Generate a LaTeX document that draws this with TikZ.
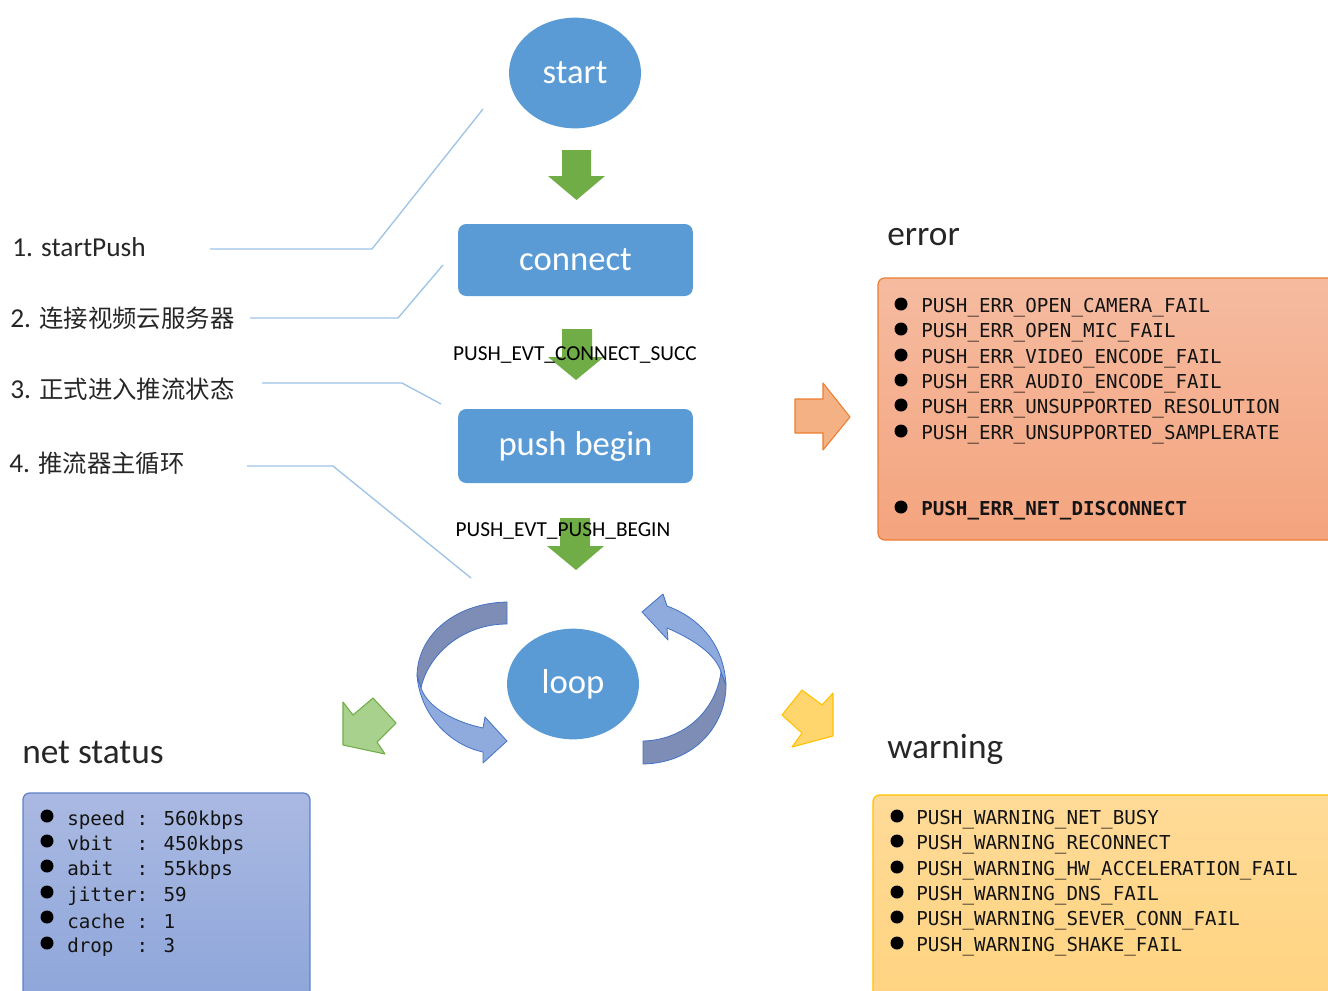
\documentclass[tikz,border=0pt]{standalone}
\usepackage{fontspec}
\setmainfont{Carlito}
\newfontfamily\cjk{Noto Sans CJK SC}
\newfontfamily\codefont{DejaVu Sans Mono}
\usetikzlibrary{shapes.geometric}

\definecolor{nodeblue}{RGB}{91,155,213}
\definecolor{flowgreen}{RGB}{112,173,71}
\definecolor{leaderblue}{RGB}{157,195,230}
\definecolor{ribbonlight}{RGB}{143,170,220}
\definecolor{ribbondark}{RGB}{126,141,182}
\definecolor{ribbonedge}{RGB}{68,114,196}
\definecolor{errtop}{RGB}{245,187,160}
\definecolor{errbot}{RGB}{244,164,126}
\definecolor{erredge}{RGB}{237,125,49}
\definecolor{nettop}{RGB}{170,185,226}
\definecolor{netbot}{RGB}{142,166,218}
\definecolor{netedge}{RGB}{93,128,200}
\definecolor{warntop}{RGB}{255,219,152}
\definecolor{warnbot}{RGB}{255,211,128}
\definecolor{warnedge}{RGB}{255,192,0}
\definecolor{orangefill}{RGB}{244,177,131}
\definecolor{yellowfill}{RGB}{255,214,110}
\definecolor{lightgreen}{RGB}{169,209,142}
\definecolor{codetext}{RGB}{20,20,20}

\begin{document}
\begin{tikzpicture}[x=0.75pt,y=-0.75pt,
  stateell/.style={ellipse,fill=nodeblue,text=white,inner sep=0pt,
    minimum width=99pt,minimum height=83pt,font=\fontsize{26}{30}\selectfont},
  statebox/.style={rectangle,rounded corners=6pt,fill=nodeblue,text=white,
    inner sep=0pt,minimum width=176pt,font=\fontsize{26}{30}\selectfont},
  flowarrow/.style={fill=flowgreen,draw=none},
  evtlabel/.style={font=\fontsize{16}{18}\selectfont,text=black,inner sep=0pt},
  steplabel/.style={anchor=west,font=\fontsize{20.5}{24}\selectfont,text=black!85,inner sep=0pt},
  heading/.style={anchor=west,font=\fontsize{26.5}{30}\selectfont,text=black!85,inner sep=0pt},
  leader/.style={draw=leaderblue,line width=1pt},
  item/.style={anchor=west,font=\codefont\fontsize{14.4}{16}\selectfont,text=codetext,inner sep=0pt},
  ribbon/.style={draw=ribbonedge,line width=0.6pt,line join=round}
]
\useasboundingbox (0,0) rectangle (1328,990);

% ---------- main flow ----------
\node[stateell] (start) at (575,73) {start};
\node[statebox,minimum height=54pt] (connect) at (575.5,260) {connect};
\node[statebox,minimum height=55.5pt] (pushbegin) at (575.5,446) {push begin};
\node[stateell] (loop) at (573,684) {loop};

% green step arrows
\path[flowarrow] (562,150) -- (591,150) -- (591,176) -- (605,176) -- (576.5,200)
  -- (548,176) -- (562,176) -- cycle;
\path[flowarrow] (562,329) -- (592,329) -- (592,357) -- (604,357) -- (576,380)
  -- (548,357) -- (562,357) -- cycle;
\path[flowarrow] (560,518) -- (590,518) -- (590,546) -- (604,546) -- (576,570)
  -- (547,546) -- (560,546) -- cycle;

\node[evtlabel] (evt1) at (575,355) {PUSH\_EVT\_CONNECT\_SUCC};
\node[evtlabel] (evt2) at (563,531) {PUSH\_EVT\_PUSH\_BEGIN};

% ---------- loop ribbons ----------
% left ribbon, back face
\path[ribbon,fill=ribbondark] (507,602) .. controls (455,603) and (418,635) .. (417,675)
  -- (421,688) .. controls (428,655) and (462,624) .. (507,624) -- cycle;
% left ribbon, front face with head
\path[ribbon,fill=ribbonlight] (417,675) .. controls (420,715) and (450,745) .. (483,752)
  -- (483,763) -- (507,741) -- (485,717) -- (483,728)
  .. controls (455,722) and (428,708) .. (421,688) -- cycle;
% right ribbon, back face
\path[ribbon,fill=ribbondark] (643,764) .. controls (695,763) and (726,725) .. (726,685)
  -- (721,672) .. controls (716,710) and (685,740) .. (643,741) -- cycle;
% right ribbon, front face with head
\path[ribbon,fill=ribbonlight] (726,685) .. controls (724,645) and (700,618) .. (667,606)
  -- (663,594) -- (642,612) -- (668,640) -- (667,628)
  .. controls (695,640) and (716,655) .. (721,672) -- cycle;

% ---------- step labels and leader lines ----------
\node[steplabel] (s1) at (12,247) {1. startPush};
\node[steplabel] (s2) at (10,318) {2. {\cjk\fontsize{18.3}{22}\selectfont 连接视频云服务器}};
\node[steplabel] (s3) at (10,389) {3. {\cjk\fontsize{18.3}{22}\selectfont 正式进入推流状态}};
\node[steplabel] (s4) at (9,463) {4. {\cjk\fontsize{18.3}{22}\selectfont 推流器主循环}};

\coordinate (a1) at (210,249); \coordinate (b1) at (372,249); \coordinate (c1) at (483,109);
\coordinate (a2) at (250,318); \coordinate (b2) at (398,318); \coordinate (c2) at (443,265);
\coordinate (a3) at (262,383); \coordinate (b3) at (402,383); \coordinate (c3) at (441,404);
\coordinate (a4) at (247,466); \coordinate (b4) at (333,466); \coordinate (c4) at (471,578);
\draw[leader] (a1) -- (b1) -- (c1);
\draw[leader] (a2) -- (b2) -- (c2);
\draw[leader] (a3) -- (b3) -- (c3);
\draw[leader] (a4) -- (b4) -- (c4);

% ---------- direction arrows ----------
\path[fill=orangefill,draw=erredge,line width=0.8pt,line join=round]
  (795,399) -- (823,399) -- (823,383) -- (850,417) -- (823,450) -- (823,433)
  -- (795,433) -- cycle;
\path[fill=yellowfill,draw=warnedge,line width=0.8pt,line join=round]
  (802,690) -- (822,705) -- (833,693) -- (833,736) -- (792,747) -- (802,733)
  -- (782,715) -- cycle;
\path[fill=lightgreen,draw=flowgreen,line width=0.8pt,line join=round]
  (343,702) -- (353,715) -- (373,698) -- (396,723) -- (377,742) -- (385,754)
  -- (343,745) -- cycle;

% ---------- headings ----------
\node[heading] (herr) at (887,237) {error};
\node[heading] (hnet) at (22,752) {net status};
\node[heading] (hwarn) at (887,749) {warning};

% ---------- error box ----------
\path[draw=erredge,line width=0.9pt,top color=errtop,bottom color=errbot,rounded corners=5pt]
  (878,278) rectangle (1340,540);
\foreach \y/\t [count=\i] in {306/PUSH\_ERR\_OPEN\_CAMERA\_FAIL,
    331/PUSH\_ERR\_OPEN\_MIC\_FAIL,
    357/PUSH\_ERR\_VIDEO\_ENCODE\_FAIL,
    382/PUSH\_ERR\_AUDIO\_ENCODE\_FAIL,
    407/PUSH\_ERR\_UNSUPPORTED\_RESOLUTION,
    433/PUSH\_ERR\_UNSUPPORTED\_SAMPLERATE}{
  \fill (901,\y-2) circle[radius=6.5];
  \node[item] (err\i) at (921,\y+2) {\t};
}
\fill (901,507) circle[radius=6.5];
\node[item,font=\codefont\bfseries\fontsize{14.4}{16}\selectfont] (err7) at (921,511)
  {PUSH\_ERR\_NET\_DISCONNECT};

% ---------- net status box ----------
\path[draw=netedge,line width=0.9pt,top color=nettop,bottom color=netbot,rounded corners=5pt]
  (23,793) rectangle (310,1000);
\foreach \y/\t [count=\i] in {818/speed : 560kbps,
    843/vbit{ } : 450kbps,
    868/abit{ } : 55kbps,
    894/jitter: 59,
    919/cache : 1,
    945/drop{ } : 3}{
  \fill (47,\y-2) circle[radius=6.5];
  \node[item] (net\i) at (67,\y+2) {\t};
}

% ---------- warning box ----------
\path[draw=warnedge,line width=0.9pt,top color=warntop,bottom color=warnbot,rounded corners=5pt]
  (873,795) rectangle (1340,1000);
\foreach \y/\t [count=\i] in {818/PUSH\_WARNING\_NET\_BUSY,
    843/PUSH\_WARNING\_RECONNECT,
    869/PUSH\_WARNING\_HW\_ACCELERATION\_FAIL,
    894/PUSH\_WARNING\_DNS\_FAIL,
    919/PUSH\_WARNING\_SEVER\_CONN\_FAIL,
    945/PUSH\_WARNING\_SHAKE\_FAIL}{
  \fill (897,\y-2) circle[radius=6.5];
  \node[item] (warn\i) at (916,\y+2) {\t};
}
\end{tikzpicture}
\end{document}
